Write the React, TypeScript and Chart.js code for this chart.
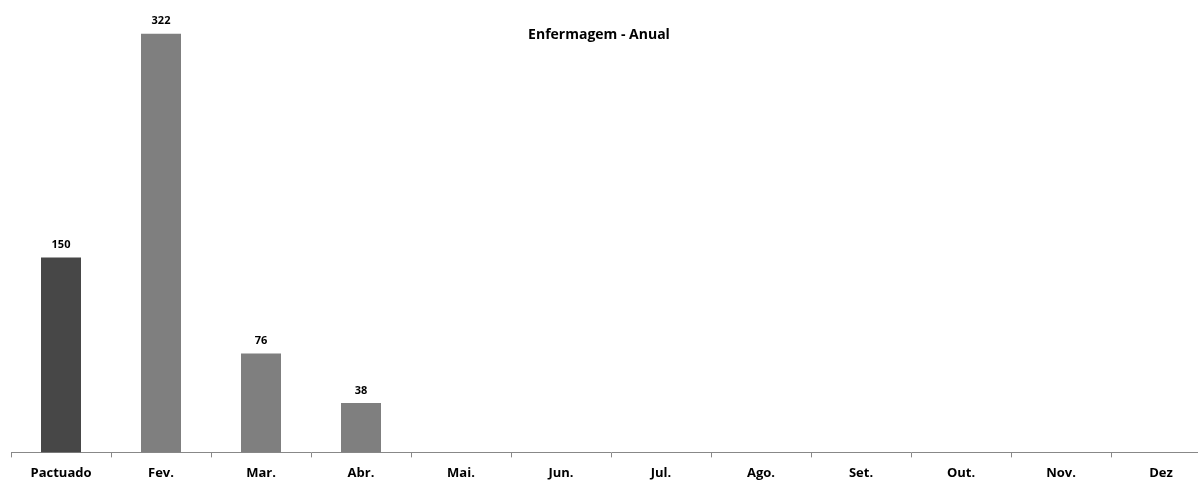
import React, { useEffect, useRef } from "react";
import { Chart, registerables } from "chart.js";

Chart.register(...registerables);

const categories = ["Pactuado", "Fev.", "Mar.", "Abr.", "Mai.", "Jun.", "Jul.", "Ago.", "Set.", "Out.", "Nov.", "Dez"];
const values: (number | null)[] = [150, 322, 76, 38, null, null, null, null, null, null, null, null];
const barColors = ["#474747", "#7f7f7f", "#7f7f7f", "#7f7f7f", "#7f7f7f", "#7f7f7f", "#7f7f7f", "#7f7f7f", "#7f7f7f", "#7f7f7f", "#7f7f7f", "#7f7f7f"];
const titleText = "Enfermagem - Anual";

const FONT = "'Open Sans', 'DejaVu Sans', sans-serif";

export default function App() {
  const ref = useRef<HTMLCanvasElement>(null);
  useEffect(() => {
    if (!ref.current) return;
    const labelPlugin = {
      id: "labels",
      afterDatasetsDraw(chart: any) {
        const ctx = chart.ctx;
        ctx.save();
        ctx.fillStyle = "#000";
        ctx.font = `bold 11px ${FONT}`;
        ctx.textAlign = "center";
        ctx.textBaseline = "bottom";
        const meta = chart.getDatasetMeta(0);
        meta.data.forEach((el: any, i: number) => {
          const v = values[i];
          if (v == null) return;
          ctx.fillText(String(v), el.x, el.y - 7);
        });
        ctx.font = `bold 14px ${FONT}`;
        ctx.textBaseline = "middle";
        ctx.fillText(titleText, 599, 35);
        ctx.restore();
      },
    };
    const chart = new Chart(ref.current, {
      type: "bar",
      data: {
        labels: categories,
        datasets: [
          {
            data: values,
            backgroundColor: barColors,
            borderWidth: 0,
            barPercentage: 0.4,
            categoryPercentage: 1,
          },
        ],
      },
      options: {
        animation: false,
        responsive: false,
        maintainAspectRatio: false,
        layout: { padding: { left: 11, right: 4, top: 0, bottom: -8 } },
        plugins: { legend: { display: false }, tooltip: { enabled: false }, title: { display: false } },
        scales: {
          x: {
            offset: true,
            grid: { display: true, drawOnChartArea: false, drawTicks: true, tickLength: 5, color: "#888", offset: true },
            border: { display: true, color: "#888", width: 1 },
            ticks: { color: "#000", font: { family: FONT, size: 13, weight: "bold" }, padding: 8, maxRotation: 0, autoSkip: false },
          },
          y: { display: false, min: 0, max: 348 },
        },
      },
      plugins: [labelPlugin],
    });
    return () => chart.destroy();
  }, []);
  return (
    <div style={{ position: "fixed", left: 0, top: 0, width: 1198, height: 481, overflow: "hidden", background: "#fff" }}>
      <canvas ref={ref} width={1215} height={481} style={{ display: "block", width: 1215, height: 481 }} />
    </div>
  );
}
